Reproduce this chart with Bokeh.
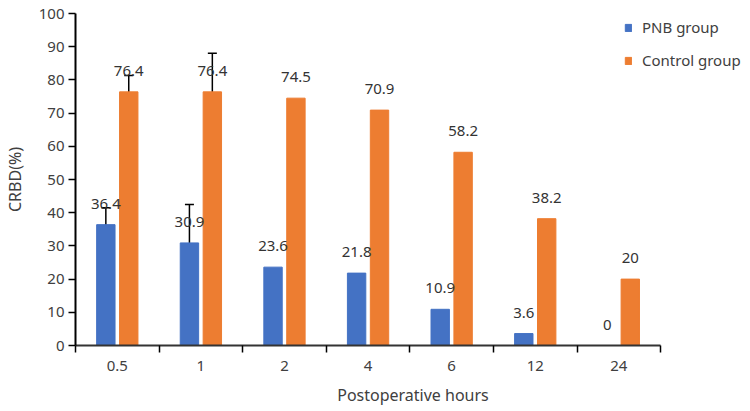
from bokeh.plotting import figure
from bokeh.models import (ColumnDataSource, FixedTicker, Whisker, TeeHead, Legend, LegendItem, Range1d)
from bokeh.core.properties import value
from bokeh.embed import file_html
from bokeh.resources import INLINE

categories = ["0.5", "1", "2", "4", "6", "12", "24"]
pnb = [36.4, 30.9, 23.6, 21.8, 10.9, 3.6, 0]
control = [76.4, 76.4, 74.5, 70.9, 58.2, 38.2, 20]
# error bars (only first two time points)
err_idx = [0, 1]
pnb_lower = [31.5, 19.4]
pnb_upper = [41.5, 42.5]
ctrl_lower = [71.7, 65.0]
ctrl_upper = [81.3, 88.0]

FONT = "Noto Sans"
TXT = "#404040"
BLUE = "#4472C4"
ORANGE = "#ED7D31"
OFF = 0.137
W = 0.22

n = len(categories)
centers = [i + 0.5 for i in range(n)]

p = figure(width=750, height=411, output_backend="svg", toolbar_location=None,
           x_range=Range1d(0, n * 676 / 586), y_range=Range1d(0, 100),
           min_border_left=74, min_border_right=0, min_border_top=13, min_border_bottom=66)
p.outline_line_color = None
p.xgrid.grid_line_color = None
p.ygrid.grid_line_color = None

src_b = ColumnDataSource(dict(x=[c - OFF for c in centers], top=pnb, lab=[f"{v:g}" for v in pnb]))
src_o = ColumnDataSource(dict(x=[c + OFF for c in centers], top=control, lab=[f"{v:g}" for v in control]))

rb = p.vbar(x="x", top="top", width=W, source=src_b, fill_color=BLUE, line_color=BLUE)
ro = p.vbar(x="x", top="top", width=W, source=src_o, fill_color=ORANGE, line_color=ORANGE)

for src in (src_b, src_o):
    p.text(x="x", y="top", text="lab", source=src, text_align="center", text_baseline="alphabetic",
           y_offset=-21, text_font=value(FONT), text_font_size="15px", text_color="#333333")

eb = ColumnDataSource(dict(x=[centers[i] - OFF for i in err_idx], lower=pnb_lower, upper=pnb_upper))
eo = ColumnDataSource(dict(x=[centers[i] + OFF for i in err_idx], lower=ctrl_lower, upper=ctrl_upper))
for s in (eb, eo):
    w = Whisker(base="x", lower="lower", upper="upper", source=s, line_color="black", line_width=1.5,
                upper_head=TeeHead(size=9, line_color="black", line_width=1.5),
                lower_head=TeeHead(size=9, line_color="black", line_width=1.5))
    p.add_layout(w)

# x axis: labels at centers, ticks at category boundaries
p.xaxis.ticker = FixedTicker(ticks=centers, minor_ticks=list(range(n + 1)))
p.xaxis.bounds = (0, n)
p.xaxis.major_label_overrides = {c: lab for c, lab in zip(centers, categories)}
p.xaxis.major_tick_out = 0
p.xaxis.major_tick_in = 0
p.xaxis.minor_tick_out = 7
p.xaxis.minor_tick_in = 0
p.xaxis.minor_tick_line_color = "black"
p.xaxis.minor_tick_line_width = 1.5
p.xaxis.axis_line_color = "#333333"
p.xaxis.axis_line_width = 2
p.xaxis.axis_label = "Postoperative hours"
p.xaxis.major_label_standoff = 8

p.yaxis.ticker = FixedTicker(ticks=list(range(0, 101, 10)), minor_ticks=[])
p.yaxis.major_tick_out = 7
p.yaxis.major_tick_in = 0
p.yaxis.major_tick_line_color = "black"
p.yaxis.major_tick_line_width = 1.5
p.yaxis.axis_line_color = "black"
p.yaxis.axis_line_width = 2
p.yaxis.axis_label = "CRBD(%)"
p.yaxis.major_label_standoff = 4

for ax in (p.xaxis[0], p.yaxis[0]):
    ax.major_label_text_font = FONT
    ax.major_label_text_font_size = "15px"
    ax.major_label_text_color = TXT
    ax.axis_label_text_font = FONT
    ax.axis_label_text_font_size = "16px"
    ax.axis_label_text_font_style = "normal"
    ax.axis_label_text_color = TXT
p.xaxis.axis_label_standoff = 10
p.yaxis.axis_label_standoff = 10

legend = Legend(items=[LegendItem(label="PNB group", renderers=[rb]),
                       LegendItem(label="Control group", renderers=[ro])],
                location=(549, 275), orientation="vertical")
legend.glyph_width = 8
legend.glyph_height = 9
legend.label_height = 20
legend.spacing = 13
legend.padding = 0
legend.margin = 0
legend.label_standoff = 10
legend.border_line_color = None
legend.background_fill_alpha = 0
legend.label_text_font = FONT
legend.label_text_font_size = "15px"
legend.label_text_color = TXT
p.add_layout(legend, "center")

open("out.html", "w").write(file_html(p, INLINE))
